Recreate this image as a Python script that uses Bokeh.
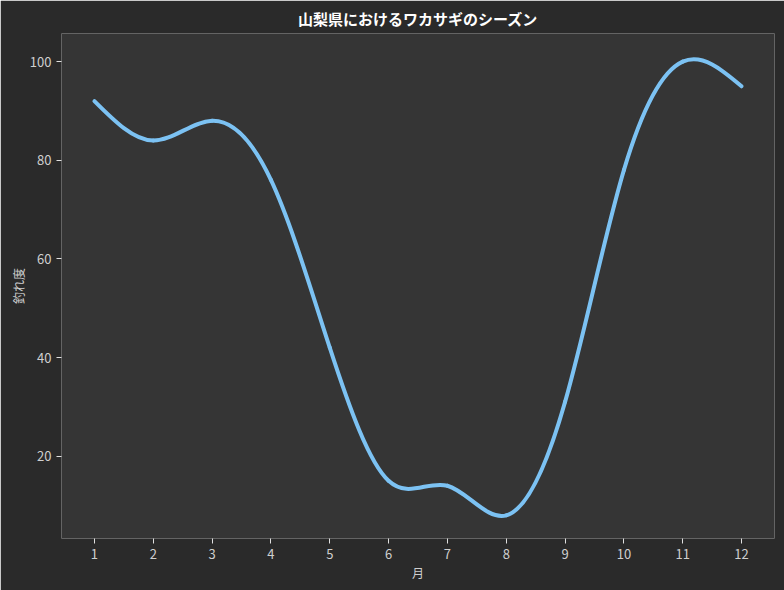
import numpy as np
from bokeh.plotting import figure
from bokeh.models import Range1d, FixedTicker, ColumnDataSource
from bokeh.embed import file_html
from bokeh.resources import INLINE

# ---- data ----
months = [1, 2, 3, 4, 5, 6, 7, 8, 9, 10, 11, 12]
values = [92, 84, 88, 76, 42, 15, 14, 8, 31, 78, 100, 95]
x_ticks = [1, 2, 3, 4, 5, 6, 7, 8, 9, 10, 11, 12]
y_ticks = [20, 40, 60, 80, 100]
title_text = "山梨県におけるワカサギのシーズン"
x_label = "月"
y_label = "釣れ度"

# ---- smooth curve (natural cubic spline through the data, drawn as Bezier segments) ----
x = np.array(months, dtype=float)
y = np.array(values, dtype=float)
n = len(x)
h = np.diff(x)
A = np.zeros((n, n))
b = np.zeros(n)
for i in range(1, n - 1):
    A[i, i - 1] = h[i - 1]
    A[i, i] = 2 * (h[i - 1] + h[i])
    A[i, i + 1] = h[i]
    b[i] = 6 * ((y[i + 1] - y[i]) / h[i] - (y[i] - y[i - 1]) / h[i - 1])
A[0, 0] = 1.0
A[n - 1, n - 1] = 1.0
M = np.linalg.solve(A, b)
slopes = np.zeros(n)
for i in range(n - 1):
    slopes[i] = (y[i + 1] - y[i]) / h[i] - h[i] * (2 * M[i] + M[i + 1]) / 6
slopes[n - 1] = (y[n - 1] - y[n - 2]) / h[n - 2] + h[n - 2] * (M[n - 2] + 2 * M[n - 1]) / 6

seg = ColumnDataSource(dict(
    x0=x[:-1], y0=y[:-1], x1=x[1:], y1=y[1:],
    cx0=x[:-1] + h / 3, cy0=y[:-1] + slopes[:-1] * h / 3,
    cx1=x[1:] - h / 3, cy1=y[1:] - slopes[1:] * h / 3,
))

FONT = "Noto Sans CJK JP"
OUTER = "#2a2a2a"
INNER = "#353535"
TXT = "#cfcfcf"

p = figure(width=784, height=590, output_backend="svg", toolbar_location=None,
           x_range=Range1d(0.44, 12.56), y_range=Range1d(3.3, 105.7),
           min_border_left=61, min_border_right=10, min_border_top=32, min_border_bottom=52)
p.background_fill_color = INNER
p.border_fill_color = OUTER
p.outline_line_color = None
p.grid.visible = False

p.title.text = title_text
p.title.align = "center"
p.title.text_color = "#ffffff"
p.title.text_font = FONT
p.title.text_font_style = "bold"
p.title.text_font_size = "15px"

p.bezier(x0="x0", y0="y0", x1="x1", y1="y1", cx0="cx0", cy0="cy0", cx1="cx1", cy1="cy1",
         source=seg, line_color="#7cc2f3", line_width=4, line_cap="round")

for ax in (p.xaxis[0], p.yaxis[0]):
    ax.axis_line_color = None
    ax.major_tick_line_color = "#e0e0e0"
    ax.major_tick_out = 5
    ax.major_tick_in = 0
    ax.minor_tick_line_color = None
    ax.major_label_text_color = TXT
    ax.major_label_text_font = FONT
    ax.major_label_text_font_size = "13px"
    ax.axis_label_text_color = TXT
    ax.axis_label_text_font = FONT
    ax.axis_label_text_font_size = "12px"
    ax.axis_label_text_font_style = "normal"
    ax.major_label_standoff = 5

p.yaxis.axis_label_standoff = 0
p.xaxis.axis_label_standoff = 2
p.xaxis.ticker = FixedTicker(ticks=x_ticks)
p.yaxis.ticker = FixedTicker(ticks=y_ticks)
p.xaxis.axis_label = x_label
p.yaxis.axis_label = y_label

html = file_html(p, INLINE)
html = html.replace("<body>", '<body style="background:%s">' % OUTER, 1)
open("out.html", "w").write(html)
